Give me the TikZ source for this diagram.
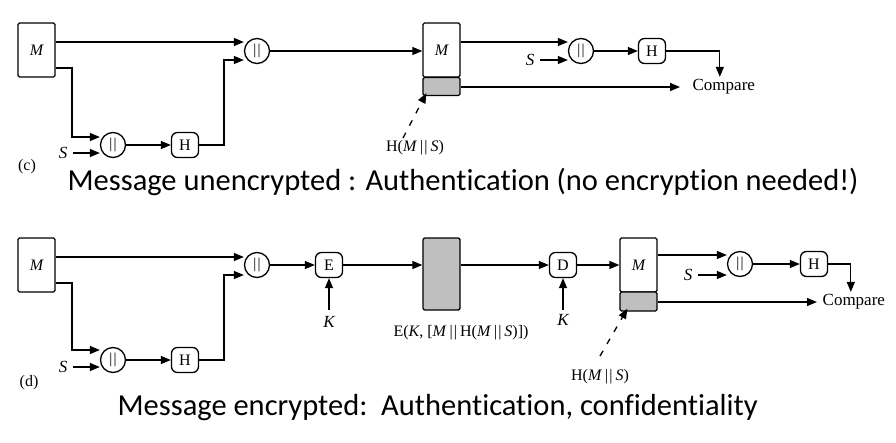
\documentclass[tikz,border=0pt]{standalone}
\usepackage{fontspec}
\setmainfont{Liberation Serif}
\newfontfamily\capfont[Ligatures=NoCommon]{Carlito}
\usetikzlibrary{arrows.meta,calc}
\newcommand{\dbar}{\kern3pt|\kern1pt|\kern3pt}
\newcommand{\cbar}{|\kern1.4pt|}
\begin{document}
\begin{tikzpicture}[x=1pt,y=-1pt,
  line width=1.3pt,
  arr/.style={-{Triangle[length=10pt,width=8pt]}},
  mbox/.style={draw,fill=white,rounded corners=1.5pt,minimum width=37pt,minimum height=54pt,inner sep=0pt,font=\fontsize{16}{16}\selectfont\itshape},
  catnode/.style={draw,circle,minimum size=25pt,inner sep=0pt,font=\fontsize{15}{15}\selectfont},
  fnbox/.style={draw,rounded corners=6pt,minimum width=27pt,minimum height=25pt,inner sep=0pt,font=\fontsize{16}{16}\selectfont},
  graybox/.style={draw,fill=gray!50,rounded corners=1.5pt,minimum width=37pt,inner sep=0pt},
  lbl/.style={inner sep=1pt,font=\fontsize{16}{16}\selectfont},
  ilbl/.style={inner sep=1pt,font=\fontsize{17}{17}\selectfont\itshape},
  cmp/.style={anchor=west,inner sep=2pt,font=\fontsize{17}{17}\selectfont},
  dsh/.style={dash pattern=on 6pt off 8pt},
  captext/.style={anchor=base west,inner sep=0pt,font=\capfont\fontsize{30.5}{36}\selectfont}
]
\useasboundingbox (0,0) rectangle (896,442);

% ---------------- (c) ----------------
\node[mbox] (Mc) at (36.5,50) {M};
\node[catnode] (catc) at (257,51) {\cbar};
\node[catnode] (scatc) at (113,145) {\cbar};
\node[fnbox] (Hc1) at (185,145) {H};
\node[ilbl] (Sc1) at (63,153) {S};
\node[lbl] (lc) at (27,167) {(c)};
\node[mbox] (Rc) at (441.5,50) {M};
\node[graybox,minimum height=18pt] (Rgc) at (441.5,86.5) {};
\node[catnode] (cat2c) at (581,51) {\cbar};
\node[fnbox] (Hc2) at (652,51) {H};
\node[ilbl] (Sc2) at (530,60) {S};
\node[cmp] (cmpc) at (690,87) {Compare};
\node[lbl] (hmsc) at (415,148) {H(\textit{M}\dbar\textit{S})};

\draw[arr] (Mc.east |- 0,42) -- (catc.west |- 0,42);
\coordinate (bc) at (72,137);
\draw[arr] (Mc.east |- 0,68) -| (bc) -- (scatc.west |- bc);
\draw[arr] ([xshift=4pt]Sc1.east) -- (scatc.west |- Sc1);
\draw[arr] (scatc) -- (Hc1);
\coordinate (jc) at (224,60);
\draw[arr] (Hc1.east) -| (jc) -- (catc.west |- jc);
\draw[arr] (catc) -- (Rc.west |- catc);
\draw[arr] (Rc.east |- 0,42) -- (cat2c.west |- 0,42);
\draw[arr] ([xshift=4pt]Sc2.east) -- (cat2c.west |- Sc2);
\draw[arr] (cat2c) -- (Hc2);
\draw[arr] (Hc2.east) -| ([xshift=-4pt]cmpc.north);
\draw[arr] (Rgc.east |- 0,87) -- ([xshift=-10pt]cmpc.west);
\draw[dsh,arr] ($(hmsc.north)+(-12,-1)$) -- ($(Rgc.south west)+(4,-3)$);

\node[captext] (cap1) at (67,190) {Message unencrypted : Authentication (no encryption needed!)};

% ---------------- (d) ----------------
\node[mbox] (Md) at (36.5,265) {M};
\node[catnode] (catd) at (257,265) {\cbar};
\node[catnode] (scatd) at (113,360) {\cbar};
\node[fnbox] (Hd1) at (185,360) {H};
\node[ilbl] (Sd1) at (63,367) {S};
\node[lbl] (ld) at (29,383) {(d)};
\node[fnbox] (Ed) at (329,265) {E};
\node[ilbl] (Kd1) at (329,322) {K};
\node[graybox,minimum height=72pt,rounded corners=2pt] (Gd) at (441.5,274) {};
\node[lbl] (Gl) at (461,333) {E(\textit{K}, [\textit{M}\dbar H(\textit{M}\dbar\textit{S})])};
\node[fnbox] (Dd) at (563,265) {D};
\node[ilbl] (Kd2) at (563,320) {K};
\node[mbox] (Rd) at (638.5,265) {M};
\node[graybox,minimum height=19pt] (Rgd) at (638.5,301.5) {};
\node[catnode] (cat2d) at (740,264) {\cbar};
\node[fnbox] (Hd2) at (814,264) {H};
\node[ilbl] (Sd2) at (688,275) {S};
\node[cmp] (cmpd) at (820,302) {Compare};
\node[lbl] (hmsd) at (600,377) {H(\textit{M}\dbar\textit{S})};

\draw[arr] (Md.east |- 0,257) -- (catd.west |- 0,257);
\coordinate (bd) at (72,350);
\draw[arr] (Md.east |- 0,283) -| (bd) -- (scatd.west |- bd);
\draw[arr] ([xshift=4pt]Sd1.east) -- (scatd.west |- Sd1);
\draw[arr] (scatd) -- (Hd1);
\coordinate (jd) at (224,275);
\draw[arr] (Hd1.east) -| (jd) -- (catd.west |- jd);
\draw[arr] (catd) -- (Ed);
\draw[arr] ($(Kd1.north)+(0,-5)$) -- (Ed.south);
\draw[arr] (Ed) -- (Gd.west |- Ed);
\draw[arr] (Gd.east |- Dd) -- (Dd);
\draw[arr] ($(Kd2.north)+(0,-3)$) -- (Dd.south);
\draw[arr] (Dd) -- (Rd.west |- Dd);
\draw[arr] (Rd.east |- 0,255) -- (cat2d.west |- 0,255);
\draw[arr] ([xshift=4pt]Sd2.east) -- (cat2d.west |- Sd2);
\draw[arr] (cat2d) -- (Hd2);
\draw[arr] (Hd2.east) -| ([xshift=-3pt]cmpd.north);
\draw[arr] (Rgd.east |- 0,302) -- ([xshift=-3pt]cmpd.west);
\draw[dsh,arr] ($(hmsd.north)+(0,-12)$) -- ($(Rgd.south west)+(8,-3)$);

\node[captext] (cap2) at (117,415) {Message encrypted:\ \ Authentication, confidentiality};
\end{tikzpicture}
\end{document}
